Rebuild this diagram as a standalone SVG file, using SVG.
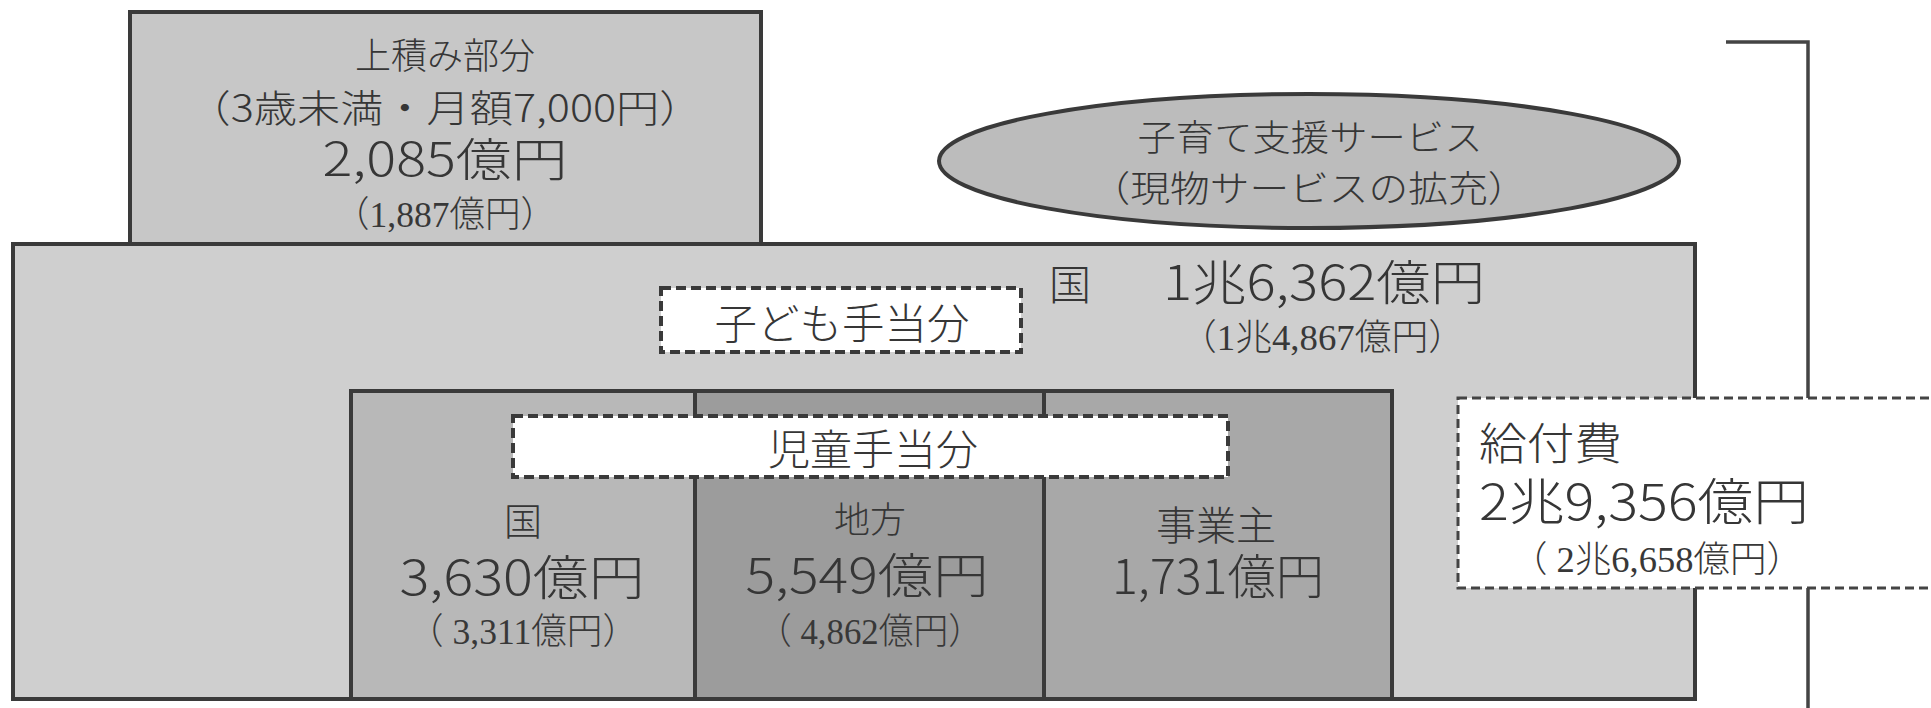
<svg xmlns="http://www.w3.org/2000/svg" width="1931" height="708" viewBox="0 0 1931 708">
<style>
.box{stroke:#3a3a3a;stroke-width:4}
.dash{fill:#ffffff;stroke:#3a3a3a;stroke-width:4;stroke-dasharray:10 5}
.dash2{fill:#ffffff;stroke:#444;stroke-width:3;stroke-dasharray:9 5}
.g{font-family:"Noto Sans CJK JP","Noto Sans",sans-serif;font-weight:300;fill:#363636;text-anchor:middle}
.s{font-family:"Liberation Serif","Noto Sans CJK JP",serif;font-weight:300;fill:#383838;text-anchor:middle}
.st{text-anchor:start}
.conn{fill:none;stroke:#444;stroke-width:3.5}
</style>
<rect width="1931" height="708" fill="#ffffff"/>

<g id="node-kodomo-total">
<rect class="box" x="13" y="244" width="1682" height="455" fill="#cfcfcf"/>
<text class="g" x="1070" y="300" font-size="42">国</text>
<text class="g st" x="1163" y="300" font-size="48" textLength="322" lengthAdjust="spacingAndGlyphs">1兆6,362億円</text>
<text class="s st" x="1180" y="350" font-size="36" textLength="285" lengthAdjust="spacingAndGlyphs">（1兆4,867億円）</text>
</g>

<g id="node-uwazumi">
<rect class="box" x="130" y="12" width="631" height="232" fill="#c7c7c7"/>
<text class="g" x="445" y="69" font-size="36">上積み部分</text>
<text class="g" x="445" y="122" font-size="38" textLength="515" lengthAdjust="spacingAndGlyphs">（3歳未満・月額7,000円）</text>
<text class="g" x="445" y="176" font-size="46" textLength="245" lengthAdjust="spacingAndGlyphs">2,085億円</text>
<text class="s" x="445" y="227" font-size="36" textLength="222" lengthAdjust="spacingAndGlyphs">（1,887億円）</text>
</g>

<g id="node-kosodate">
<ellipse cx="1309" cy="161" rx="370" ry="67" fill="#bcbcbc" stroke="#3a3a3a" stroke-width="4"/>
<text class="g" x="1310" y="151" font-size="36" textLength="345" lengthAdjust="spacingAndGlyphs">子育て支援サービス</text>
<text class="g" x="1309" y="202" font-size="36" textLength="437" lengthAdjust="spacingAndGlyphs">（現物サービスの拡充）</text>
</g>

<g id="node-kuni">
<rect class="box" x="351" y="391" width="344" height="308" fill="#b8b8b8"/>
<text class="g" x="523" y="535" font-size="38">国</text>
<text class="g" x="522" y="595" font-size="48" textLength="245" lengthAdjust="spacingAndGlyphs">3,630億円</text>
<text class="s" x="523" y="644" font-size="36" textLength="230" lengthAdjust="spacingAndGlyphs">（ 3,311億円）</text>
</g>

<g id="node-chiho">
<rect class="box" x="695" y="391" width="349" height="308" fill="#9c9c9c"/>
<text class="g" x="870" y="533" font-size="36">地方</text>
<text class="g" x="867" y="593" font-size="48" textLength="243" lengthAdjust="spacingAndGlyphs">5,549億円</text>
<text class="s" x="870" y="644" font-size="36" textLength="226" lengthAdjust="spacingAndGlyphs">（ 4,862億円）</text>
</g>

<g id="node-jigyonushi">
<rect class="box" x="1044" y="391" width="348" height="308" fill="#a8a8a8"/>
<text class="g" x="1216" y="540" font-size="40">事業主</text>
<text class="g" x="1218" y="594" font-size="48" textLength="212" lengthAdjust="spacingAndGlyphs">1,731億円</text>
</g>

<g id="node-kodomo-label">
<rect class="dash" x="661" y="288" width="360" height="64"/>
<text class="g" x="842" y="339" font-size="42" textLength="255" lengthAdjust="spacingAndGlyphs">子ども手当分</text>
</g>

<g id="node-jido-label">
<rect class="dash" x="513" y="416" width="715" height="61"/>
<text class="g" x="873" y="465" font-size="42" textLength="210" lengthAdjust="spacingAndGlyphs">児童手当分</text>
</g>

<g id="connectors">
<path class="conn" d="M1726,42 H1808 V708"/>
</g>

<g id="node-kyufuhi">
<rect class="dash2" x="1458" y="398" width="490" height="190"/>
<text class="g st" x="1479" y="460" font-size="44" textLength="143" lengthAdjust="spacingAndGlyphs">給付費</text>
<text class="g st" x="1479" y="520" font-size="50" textLength="330" lengthAdjust="spacingAndGlyphs">2兆9,356億円</text>
<text class="s st" x="1511" y="572" font-size="36" textLength="292" lengthAdjust="spacingAndGlyphs">（ 2兆6,658億円）</text>
</g>
</svg>
